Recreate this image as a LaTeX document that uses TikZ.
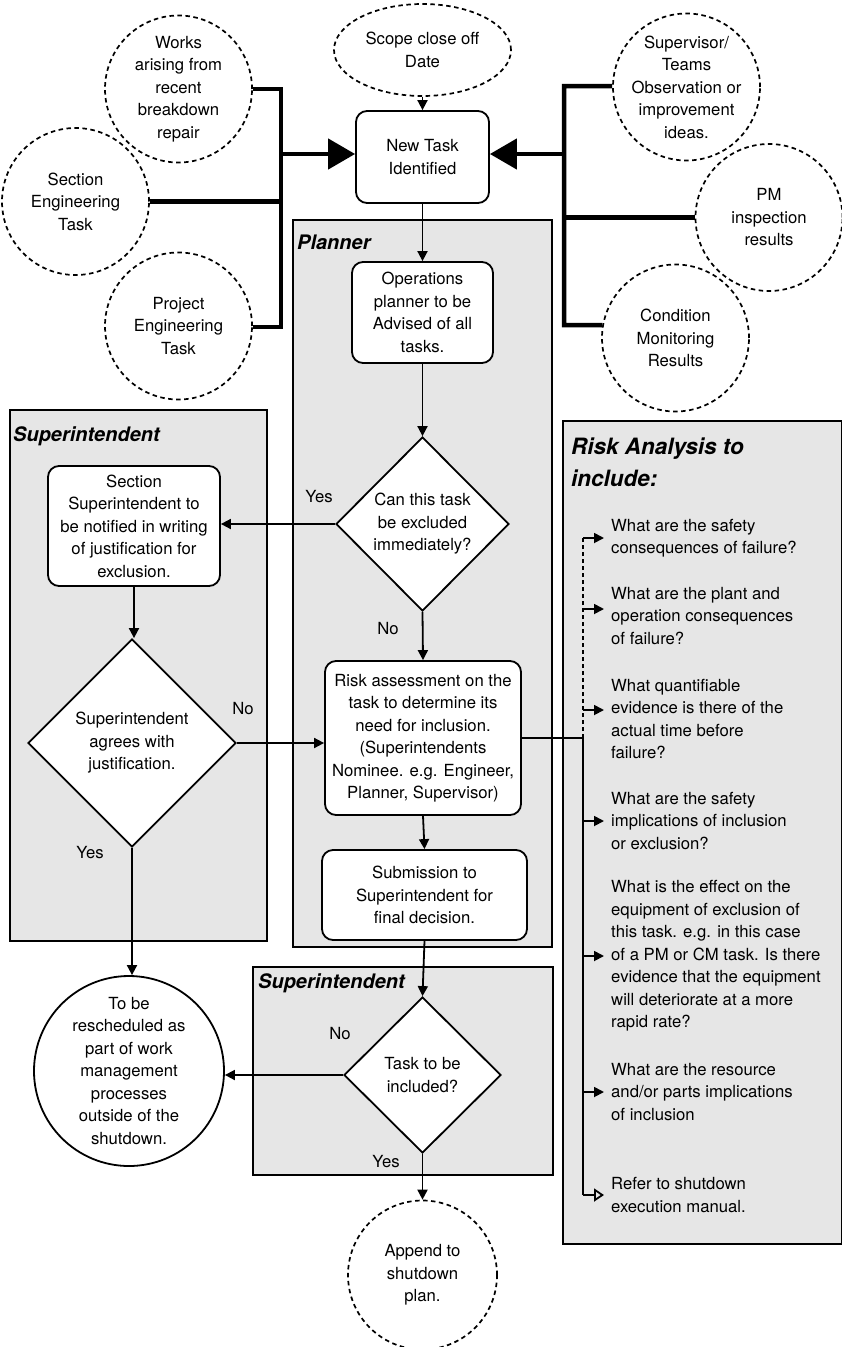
\documentclass[tikz,border=0pt]{standalone}
\usepackage{fontspec}
\setmainfont{TeX Gyre Heros}
\usetikzlibrary{shapes.geometric,arrows.meta}
\definecolor{lanegray}{RGB}{230,230,230}
\begin{document}
\begin{tikzpicture}[x=1pt,y=-1pt,
  every node/.style={font=\fontsize{16.7}{22.5}\selectfont, align=center},
  lane/.style={draw, line width=1.8pt, fill=lanegray, anchor=north west, inner sep=0},
  lanetitle/.style={font=\fontsize{20}{24}\selectfont\bfseries\itshape, anchor=west, inner sep=0},
  stepbox/.style={draw, line width=1.8pt, fill=white, rounded corners=11pt, inner sep=0},
  dcircle/.style={draw, circle, dash pattern=on 4.5pt off 3.5pt, line width=1.7pt, inner sep=0, minimum size=147pt},
  scircle/.style={draw, circle, line width=1.8pt, fill=white, inner sep=0},
  decision/.style={draw, diamond, aspect=1, line width=1.8pt, fill=white, inner sep=0},
  tag/.style={inner sep=0},
  qtext/.style={anchor=west, align=left, inner xsep=7pt, inner ysep=0},
  thin/.style={line width=1.8pt},
  arr/.style={line width=1.8pt, -{Triangle[length=10pt,width=10pt]}},
  bus/.style={line width=4.5pt, line join=miter},
  bigarr/.style={line width=4.5pt, -{Triangle[length=27pt,width=30pt]}}
]
\useasboundingbox (0,0) rectangle (842,1347);

% swimlanes
\node[lane, minimum width=257pt, minimum height=531pt] (laneA) at (9,409) {};
\node[lane, minimum width=259pt, minimum height=727pt] (laneP) at (292,219) {};
\node[lane, minimum width=300pt, minimum height=208pt] (laneB) at (252,966) {};
\node[lane, minimum width=279pt, minimum height=823pt] (laneR) at (562,420) {};

\node[lanetitle] (tP) at (297,242) {Planner};
\node[lanetitle] (tA) at (13,436) {Superintendent};
\node[lanetitle] (tB) at (258,983) {Superintendent};
\node[anchor=west, inner sep=0, align=left, font=\fontsize{22.5}{31.7}\selectfont\bfseries\itshape] (tR) at (571,462.5) {Risk Analysis to\\include:};

% sources of new tasks
\node[draw, ellipse, dash pattern=on 4.5pt off 3.5pt, line width=1.7pt, minimum width=177pt, minimum height=92pt, inner sep=0] (scope) at (422.5,50) {Scope close off\\Date};
\node[dcircle, label={center:{Works\\arising from\\recent\\breakdown\\repair}}] (works) at (178.5,89) {};
\node[dcircle, label={center:{Section\\Engineering\\Task}}] (section) at (75.5,201.5) {};
\node[dcircle, label={center:{Project\\Engineering\\Task}}] (project) at (178.5,326) {};
\node[dcircle, label={center:{Supervisor/\\Teams\\Observation or\\improvement\\ideas.}}] (superv) at (686.5,87) {};
\node[dcircle, label={center:{PM\\inspection\\results}}] (pm) at (769,217.5) {};
\node[dcircle, label={center:{Condition\\Monitoring\\Results}}] (cond) at (675.5,338) {};

% process steps
\node[stepbox, minimum width=133pt, minimum height=92pt] (newtask) at (422.5,157) {New Task\\Identified};
\node[stepbox, minimum width=141pt, minimum height=101pt] (ops) at (422.5,312.5) {Operations\\planner to be\\Advised of all\\tasks.};
\node[decision, minimum width=173pt, minimum height=174pt, label={center:{Can this task\\be excluded\\immediately?}}] (d1) at (422.5,524) {};
\node[stepbox, minimum width=172pt, minimum height=120pt] (notify) at (134,526) {Section\\Superintendent to\\be notified in writing\\of justification for\\exclusion.};
\node[decision, minimum width=208pt, minimum height=208pt, label={center:{Superintendent\\agrees with\\justification.}}] (d2) at (132,743) {};
\node[stepbox, minimum width=196pt, minimum height=154pt] (risk) at (423,738) {Risk assessment on the\\task to determine its\\need for inclusion.\\(Superintendents\\Nominee. e.g. Engineer,\\Planner, Supervisor)};
\node[stepbox, minimum width=205pt, minimum height=90pt] (submit) at (424.5,895) {Submission to\\Superintendent for\\final decision.};
\node[decision, minimum width=157pt, minimum height=156pt, label={center:{Task to be\\included?}}] (d3) at (422.5,1075) {};
\node[scircle, minimum size=190pt, label={center:{To be\\rescheduled as\\part of work\\management\\processes\\outside of the\\shutdown.}}] (resched) at (129,1071) {};
\node[dcircle, minimum size=149pt, label={center:{Append to\\shutdown\\plan.}}] (append) at (422.5,1275) {};

% risk analysis checklist
\node[qtext] (q1) at (604,538) {What are the safety\\consequences of failure?};
\node[qtext] (q2) at (604,616) {What are the plant and\\operation consequences\\of failure?};
\node[qtext] (q3) at (604,719) {What quantifiable\\evidence is there of the\\actual time before\\failure?};
\node[qtext] (q4) at (604,821) {What are the safety\\implications of inclusion\\or exclusion?};
\node[qtext] (q5) at (604,956) {What is the effect on the\\equipment of exclusion of\\this task. e.g. in this case\\of a PM or CM task. Is there\\evidence that the equipment\\will deteriorate at a more\\rapid rate?};
\node[qtext] (q6) at (604,1092) {What are the resource\\and/or parts implications\\of inclusion};
\node[qtext] (q7) at (604,1195) {Refer to shutdown\\execution manual.};

% branch labels
\node[tag] (yes1) at (319,497) {Yes};
\node[tag] (no1) at (388,629) {No};
\node[tag] (no2) at (243,709) {No};
\node[tag] (yes2) at (90,853) {Yes};
\node[tag] (no3) at (340,1034) {No};
\node[tag] (yes3) at (386,1162) {Yes};

% thick collector buses
\coordinate (lbT) at (281,89);
\coordinate (lbB) at (281,327);
\coordinate (lbM) at (281,154);
\coordinate (rbT) at (564,86);
\coordinate (rbB) at (564,325);
\coordinate (rbM) at (564,154);
\draw[bus] (works.east) -- (lbT) -- (lbB) -- (project.east |- lbB);
\draw[bus] (section.east) -- (section.east -| lbT);
\draw[bigarr] (lbM) -- (lbM -| newtask.west);
\draw[bus] (superv.west |- rbT) -- (rbT) -- (rbB) -- (cond.170);
\draw[bus] (pm.west) -- (pm.west -| rbT);
\draw[bigarr] (rbM) -- (rbM -| newtask.east);

% flow connectors
\draw[arr] (scope.south) -- (newtask.north);
\draw[arr] (newtask.south) -- (ops.north);
\draw[arr] (ops.south) -- (d1.north);
\draw[arr] (d1.west) -- (d1.west -| notify.east);
\draw[arr] (notify.south) -- (notify.south |- d2.north);
\draw[arr] (d2.east) -- (d2.east -| risk.west);
\draw[arr] (d1.south) -- (risk.north);
\draw[arr] (risk.south) -- (submit.north);
\draw[arr] (submit.south) -- (d3.north);
\draw[arr] (d3.west) -- (d3.west -| resched.east);
\draw[arr] (d3.south) -- (append.north);
\draw[arr] (d2.south) -- (d2.south |- resched.north);

% risk analysis branches
\coordinate (busx) at (583,0);
\coordinate (rj) at (risk.east -| busx);
\coordinate (a2) at ([yshift=7pt]q2.west);
\coordinate (a3) at ([yshift=9pt]q3.west);
\draw[thin] (risk.east) -- (rj);
\draw[thin, dash pattern=on 4pt off 3pt] (rj) -- (rj |- q1.west);
\draw[arr] (rj |- q1.west) -- (q1.west);
\draw[arr] (rj |- a2) -- (a2);
\draw[arr] (rj |- a3) -- (a3);
\draw[thin] (rj) -- (rj |- q7.west);
\draw[arr] (rj |- q4.west) -- (q4.west);
\draw[arr] (rj |- q5.west) -- (q5.west);
\draw[arr] (rj |- q6.west) -- (q6.west);
\draw[line width=1.8pt, -{Triangle[open,length=10pt,width=13pt]}] (rj |- q7.west) -- (q7.west);
\end{tikzpicture}
\end{document}
